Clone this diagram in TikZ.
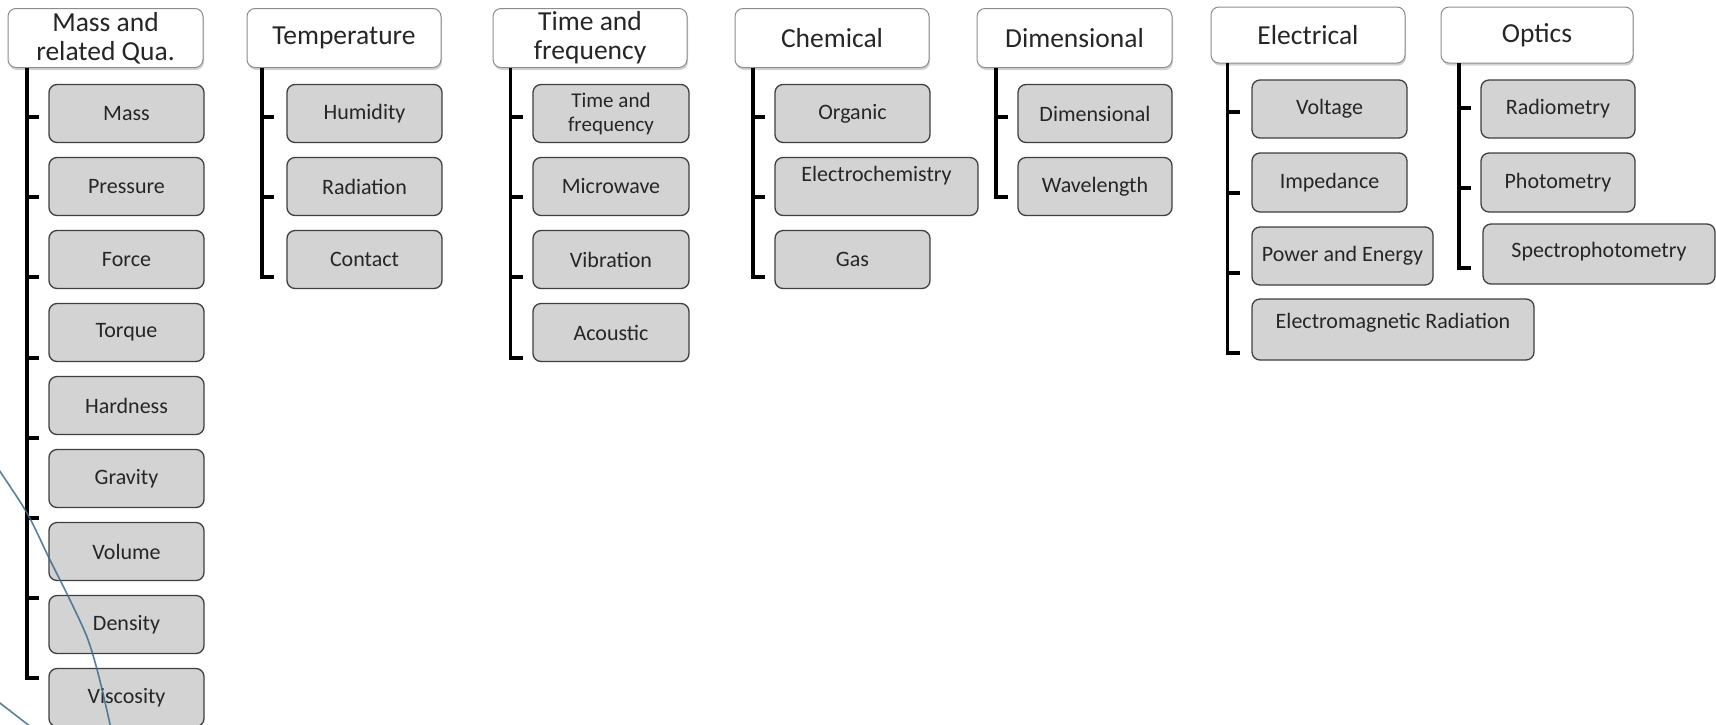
\documentclass[tikz,border=0pt]{standalone}
\usepackage{fontspec}
\setmainfont{Carlito}
\usetikzlibrary{shadows}
\definecolor{boxfill}{HTML}{D3D3D3}
\definecolor{boxline}{HTML}{3F3F3F}
\definecolor{hdrline}{HTML}{8C8C8C}
\definecolor{txt}{HTML}{262626}
\definecolor{curveblue}{HTML}{3A6B8C}
\tikzset{
  hdr/.style={draw=hdrline, line width=1pt, fill=white, rounded corners=8pt,
    inner sep=0pt, outer sep=0pt, text=txt, align=center,
    font=\fontsize{27.5}{29}\selectfont,
    drop shadow={shadow xshift=1pt, shadow yshift=-2.5pt, opacity=0.35}},
  child/.style={draw=boxline, line width=1.3pt, fill=boxfill, rounded corners=8pt,
    inner sep=0pt, outer sep=0pt, text=txt, align=center,
    font=\fontsize{22}{25}\selectfont, minimum height=58pt},
  lbl/.style={inner sep=0pt, text=txt, font=\fontsize{22}{25}\selectfont},
  trunk/.style={line width=3.2pt, black},
  bluecurve/.style={curveblue, line width=1.6pt, opacity=0.85}
}
\begin{document}
\begin{tikzpicture}[x=1pt,y=-1pt]
\useasboundingbox (0,0) rectangle (1716,724);
\clip (0,0) rectangle (1716,724);
\fill[white] (0,0) rectangle (1716,724);

% ---------- headers ----------
\node[hdr, minimum width=195pt, minimum height=59pt] (h1) at (105.5,38) {Mass and\\related Qua.};
\node[hdr, minimum width=194pt, minimum height=59pt] (h2) at (344,38) {Temperature};
\node[hdr, minimum width=194pt, minimum height=59pt] (h3) at (590,38) {Time and\\frequency};
\node[hdr, minimum width=194pt, minimum height=59pt] (h4) at (832,38) {Chemical};
\node[hdr, minimum width=195pt, minimum height=59pt] (h5) at (1074.5,38) {Dimensional};
\node[hdr, minimum width=194pt, minimum height=56pt] (h6) at (1308,35) {Electrical};
\node[hdr, minimum width=192pt, minimum height=56pt] (h7) at (1537,35) {Optics};

% ---------- column 1 ----------
\node[child, minimum width=155pt] (c1a) at (126.5,113.5) {Mass};
\node[child, minimum width=155pt] (c1b) at (126.5,186.5) {Pressure};
\node[child, minimum width=155pt] (c1c) at (126.5,259.5) {Force};
\node[child, minimum width=155pt] (c1d) at (126.5,332.5) {Torque};
\node[child, minimum width=155pt] (c1e) at (126.5,405.5) {Hardness};
\node[child, minimum width=155pt] (c1f) at (126.5,478.5) {Gravity};
\node[child, minimum width=155pt] (c1g) at (126.5,551.5) {Volume};
\node[child, minimum width=155pt] (c1h) at (126.5,624.5) {Density};
\node[child, minimum width=155pt] (c1i) at (126.5,697.5) {Viscosity};

% ---------- column 2 ----------
\node[child, minimum width=155pt] (c2a) at (364.5,113.5) {Humidity};
\node[child, minimum width=155pt] (c2b) at (364.5,186.5) {Radiation};
\node[child, minimum width=155pt] (c2c) at (364.5,259.5) {Contact};

% ---------- column 3 ----------
\node[child, minimum width=156pt, font=\fontsize{21}{24}\selectfont] (c3a) at (611,113.5) {Time and\\frequency};
\node[child, minimum width=156pt] (c3b) at (611,186.5) {Microwave};
\node[child, minimum width=156pt] (c3c) at (611,259.5) {Vibration};
\node[child, minimum width=156pt] (c3d) at (611,332.5) {Acoustic};

% ---------- column 4 ----------
\node[child, minimum width=155pt] (c4a) at (852.5,113.5) {Organic};
\node[child, minimum width=203pt] (c4b) at (876.5,186.5) {};
\node[lbl] (c4bt) at (876.5,176) {Electrochemistry};
\node[child, minimum width=155pt] (c4c) at (852.5,259.5) {Gas};

% ---------- column 5 ----------
\node[child, minimum width=154pt] (c5a) at (1095,113.5) {Dimensional};
\node[child, minimum width=154pt] (c5b) at (1095,186.5) {Wavelength};

% ---------- column 6 ----------
\node[child, minimum width=155pt] (c6a) at (1329.5,109) {Voltage};
\node[child, minimum width=155pt, minimum height=59pt] (c6b) at (1329.5,182.5) {Impedance};
\node[child, minimum width=181pt] (c6c) at (1342.5,256) {Power and Energy};
\node[child, minimum width=282pt, minimum height=61pt] (c6d) at (1393,329.5) {};
\node[lbl] (c6dt) at (1393,323) {Electromagnetic Radiation};

% ---------- column 7 ----------
\node[child, minimum width=154pt] (c7a) at (1558,109) {Radiometry};
\node[child, minimum width=154pt, minimum height=59pt] (c7b) at (1558,182.5) {Photometry};
\node[child, minimum width=232pt, minimum height=60pt] (c7c) at (1599,254) {};
\node[lbl] (c7ct) at (1599,252) {Spectrophotometry};

% ---------- trunks ----------
\coordinate (e1) at (27,678);
\coordinate (e2) at (262,277);
\coordinate (e3) at (510.5,358);
\coordinate (e4) at (753,277);
\coordinate (e5) at (996,197);
\coordinate (e6) at (1227.5,353);
\coordinate (e7) at (1459,268);

\draw[trunk] (h1.south -| e1) -- (e1) -- ++(12,0);
\foreach \y in {117,197,277,358,438,518,598} \draw[trunk] (27,\y) -- ++(12,0);

\draw[trunk] (h2.south -| e2) -- (e2) -- ++(12,0);
\foreach \y in {117,197} \draw[trunk] (262,\y) -- ++(12,0);

\draw[trunk] (h3.south -| e3) -- (e3) -- ++(12,0);
\foreach \y in {117,197,277} \draw[trunk] (510.5,\y) -- ++(12,0);

\draw[trunk] (h4.south -| e4) -- (e4) -- ++(12,0);
\foreach \y in {117,197} \draw[trunk] (753,\y) -- ++(12,0);

\draw[trunk] (h5.south -| e5) -- (e5) -- ++(12,0);
\foreach \y in {117} \draw[trunk] (996,\y) -- ++(12,0);

\draw[trunk] (h6.south -| e6) -- (e6) -- ++(12,0);
\foreach \y in {112,193,273} \draw[trunk] (1227.5,\y) -- ++(12,0);

\draw[trunk] (h7.south -| e7) -- (e7) -- ++(12,0);
\foreach \y in {108,188} \draw[trunk] (1459,\y) -- ++(12,0);

% ---------- blue curves ----------
\draw[bluecurve] plot[smooth] coordinates {(-3,467) (27,513) (50,560) (70,600) (87,637) (98,673) (110,724) (111,730)};
\draw[bluecurve] (-4,700) -- (31,727);
\end{tikzpicture}
\end{document}
